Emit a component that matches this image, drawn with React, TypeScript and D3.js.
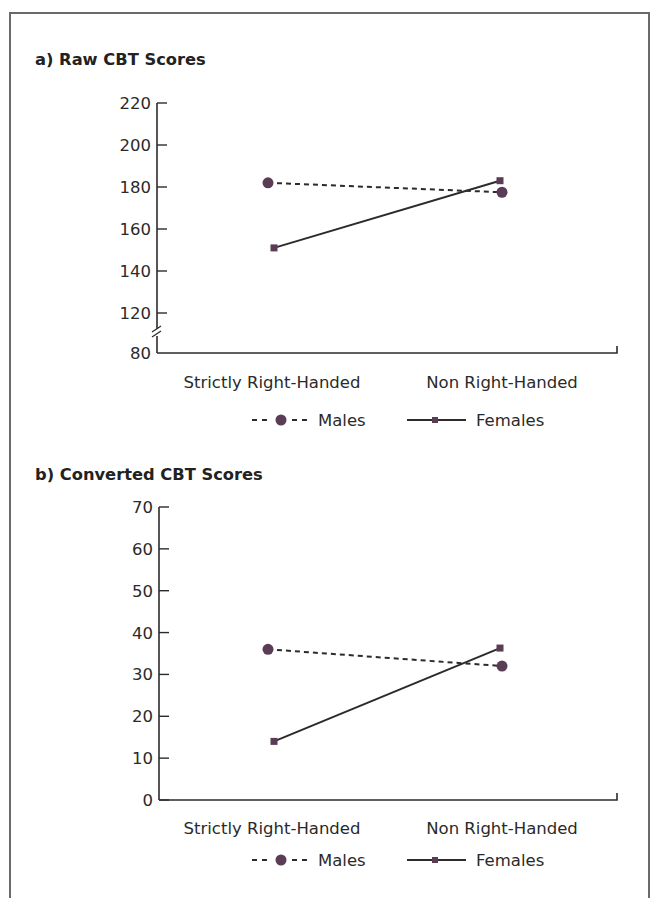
import React from "react";
import * as d3 from "d3";

const groups = ["Strictly Right-Handed", "Non Right-Handed"];
const rawMales = [182, 177.5];
const rawFemales = [151, 183];
const rawTicks = [80, 120, 140, 160, 180, 200, 220];
const convMales = [36, 32];
const convFemales = [14, 36.3];
const convTicks = [0, 10, 20, 30, 40, 50, 60, 70];
const seriesNames = ["Males", "Females"];

const MARK = "#5a3d55";
const LINE = "#2e2a2c";
const FONT = "'DejaVu Sans', Verdana, sans-serif";
const FS = 16.5;

type PanelProps = {
  title: string;
  titleY: number;
  axisX: number;
  bottom: number;
  yDomain: number[];
  yRange: number[];
  ticks: number[];
  males: number[];
  females: number[];
  brk?: number;
  legendY: number;
  labelY: number;
};

function Panel(p: PanelProps) {
  const x = d3.scalePoint<string>().domain(groups).range([272, 502]);
  const y = d3.scaleLinear().domain(p.yDomain).range(p.yRange);
  const right = 617;
  const mOff = [-4, 0];
  const fOff = [2, -2];
  const mPts: [string, number][] = groups.map((g, i) => [g, p.males[i]]);
  const fPts: [string, number][] = groups.map((g, i) => [g, p.females[i]]);
  const mLine = d3
    .line<[string, number]>()
    .x((d, i) => x(d[0])! + mOff[i])
    .y((d) => y(d[1]));
  const fLine = d3
    .line<[string, number]>()
    .x((d, i) => x(d[0])! + fOff[i])
    .y((d) => y(d[1]));
  return (
    <g>
      <text x={35} y={p.titleY} fontFamily={FONT} fontWeight="bold" fontSize={16.3} fill="#222">
        {p.title}
      </text>
      <line x1={p.axisX} x2={p.axisX} y1={y(p.yDomain[p.yDomain.length - 1])} y2={p.bottom} stroke={LINE} strokeWidth={1.6} />
      {p.ticks.map((t, i) => (
        <g key={t}>
          {i > 0 || p.brk === undefined ? (
            <line x1={p.axisX} x2={p.axisX + 10} y1={y(t)} y2={y(t)} stroke={LINE} strokeWidth={1.4} />
          ) : null}
          <text
            x={p.axisX - 6}
            y={y(t)}
            dy="0.36em"
            textAnchor="end"
            fontFamily={FONT}
            fontSize={FS}
            fill="#2a2a2a"
          >
            {t}
          </text>
        </g>
      ))}
      {p.brk !== undefined ? (
        <g>
          <rect x={p.axisX - 3} y={y(p.brk) - 4} width={6} height={7} fill="#fff" />
          <path
            d={`M${p.axisX - 5},${y(p.brk) - 1} L${p.axisX + 4},${y(p.brk) - 7} M${p.axisX - 5},${y(p.brk) + 4} L${p.axisX + 4},${y(p.brk) - 2}`}
            stroke={LINE}
            strokeWidth={1.3}
            fill="none"
          />
        </g>
      ) : null}
      <path d={`M${p.axisX},${p.bottom} H${right} V${p.bottom - 7}`} stroke={LINE} strokeWidth={1.6} fill="none" />
      {groups.map((g) => (
        <text key={g} x={x(g)} y={p.labelY} textAnchor="middle" fontFamily={FONT} fontSize={FS} fill="#2a2a2a">
          {g}
        </text>
      ))}
      <path d={mLine(mPts) || ""} stroke={LINE} strokeWidth={2} strokeDasharray="5,4" fill="none" />
      <path d={fLine(fPts) || ""} stroke={LINE} strokeWidth={2} fill="none" />
      {mPts.map((d, i) => (
        <circle key={i} cx={x(d[0])! + mOff[i]} cy={y(d[1])} r={5.5} fill={MARK} />
      ))}
      {fPts.map((d, i) => (
        <rect key={i} x={x(d[0])! + fOff[i] - 3.5} y={y(d[1]) - 3.5} width={7} height={7} fill={MARK} />
      ))}
      <line x1={252} x2={312} y1={p.legendY} y2={p.legendY} stroke={LINE} strokeWidth={2} strokeDasharray="5,5" />
      <rect x={270} y={p.legendY - 7} width={22} height={14} fill="#fff" />
      <circle cx={281} cy={p.legendY} r={5.5} fill={MARK} />
      <text x={318} y={p.legendY} dy="0.36em" fontFamily={FONT} fontSize={FS} fill="#2a2a2a">
        {seriesNames[0]}
      </text>
      <line x1={407} x2={466} y1={p.legendY} y2={p.legendY} stroke={LINE} strokeWidth={1.8} />
      <rect x={432} y={p.legendY - 3} width={6} height={6} fill={MARK} />
      <text x={476} y={p.legendY} dy="0.36em" fontFamily={FONT} fontSize={FS} fill="#2a2a2a">
        {seriesNames[1]}
      </text>
    </g>
  );
}

export default function App() {
  return (
    <svg width={653} height={898} style={{ position: "absolute", left: 0, top: 0, background: "#fff" }}>
      <rect x={0} y={0} width={653} height={898} fill="#fff" />
      <path d="M10,898 V13 H649 V898" stroke="#6a6a6a" strokeWidth={2} fill="none" />
      <Panel
        title="a) Raw CBT Scores"
        titleY={65}
        axisX={157}
        bottom={353}
        yDomain={[80, 120, 220]}
        yRange={[353, 313, 103]}
        ticks={rawTicks}
        males={rawMales}
        females={rawFemales}
        brk={100}
        legendY={420}
        labelY={388}
      />
      <Panel
        title="b) Converted CBT Scores"
        titleY={480}
        axisX={159}
        bottom={800}
        yDomain={[0, 70]}
        yRange={[800, 507]}
        ticks={convTicks}
        males={convMales}
        females={convFemales}
        legendY={860}
        labelY={834}
      />
    </svg>
  );
}
